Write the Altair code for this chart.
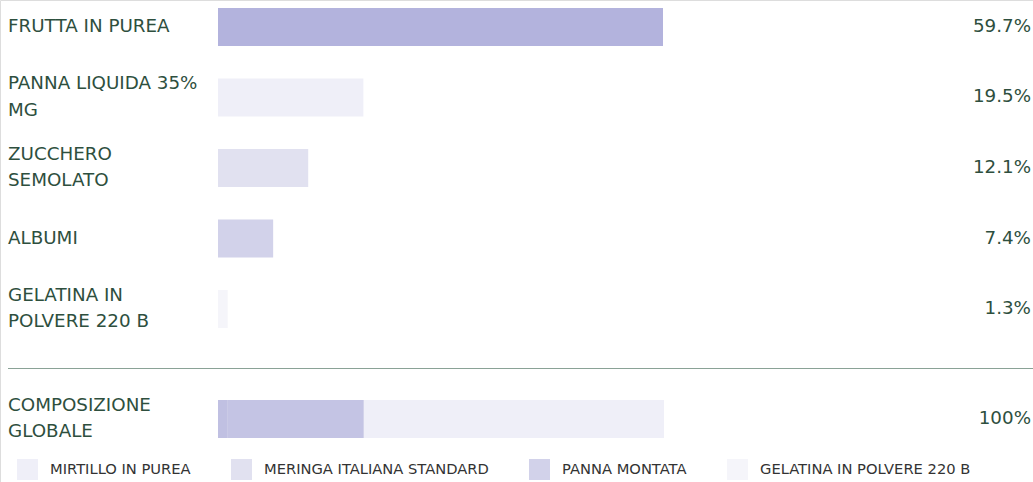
import altair as alt
import pandas as pd

# ---- data ----
ingredients = ["FRUTTA IN PUREA", "PANNA LIQUIDA 35% MG", "ZUCCHERO SEMOLATO",
               "ALBUMI", "GELATINA IN POLVERE 220 B"]
ingredient_lines = [["FRUTTA IN PUREA"], ["PANNA LIQUIDA 35%", "MG"],
                    ["ZUCCHERO", "SEMOLATO"], ["ALBUMI"],
                    ["GELATINA IN", "POLVERE 220 B"]]
shares = [59.7, 19.5, 12.1, 7.4, 1.3]
bar_colors = ["#b3b3dd", "#efeff8", "#e1e1f0", "#d2d2ea", "#f5f5fa"]

composite_name = "COMPOSIZIONE GLOBALE"
composite_lines = ["COMPOSIZIONE", "GLOBALE"]
composite_total = "100%"
composite_segments = ["s1", "s2", "s3"]
composite_values = [2.2, 30.5, 67.3]
composite_colors = ["#c0c0e2", "#c4c4e4", "#efeff8"]

legend_items = ["MIRTILLO IN PUREA", "MERINGA ITALIANA STANDARD",
                "PANNA MONTATA", "GELATINA IN POLVERE 220 B"]
legend_colors = ["#efeff8", "#e1e1f0", "#d2d2ea", "#f5f5fa"]

TEXT = "#2e4f3e"
FONT = "DejaVu Sans"
FS = 18.3
LH = 26.5

rows = pd.DataFrame({
    "name": ingredients,
    "label": ["\n".join(l) for l in ingredient_lines],
    "nlines": [len(l) for l in ingredient_lines],
    "share": shares,
    "pct": [f"{v}%" for v in shares],
    "fill": bar_colors,
})
comp = pd.DataFrame({
    "name": [composite_name] * len(composite_segments),
    "seg": composite_segments,
    "value": composite_values,
    "order": list(range(len(composite_segments))),
    "fill": composite_colors,
})
comp_label = pd.DataFrame({"name": [composite_name],
                           "label": ["\n".join(composite_lines)],
                           "pct": [composite_total]})
leg = pd.DataFrame({"item": legend_items})

y_main = alt.Y("name:N", axis=None,
               scale=alt.Scale(type="band", domain=ingredients, range=[8, 328],
                               paddingInner=0.461, paddingOuter=0))
y_comp = alt.Y("name:N", axis=None,
               scale=alt.Scale(type="band", domain=[composite_name], range=[400, 438],
                               paddingInner=0, paddingOuter=0))

bars = alt.Chart(rows).mark_bar(cornerRadius=0).encode(
    x=alt.X("share:Q", axis=None,
            scale=alt.Scale(domain=[0, max(shares)], range=[218, 663], nice=False, zero=True)),
    y=y_main,
    fill=alt.Fill("fill:N", scale=None),
)


def label_layer(source, y_enc, nlines):
    return alt.Chart(source).mark_text(
        align="left", baseline="middle", fontSize=FS, font=FONT, color=TEXT,
        lineBreak="\n", lineHeight=LH, dy=-(nlines - 1) * LH / 2,
    ).encode(x=alt.value(8), y=y_enc, text="label:N")


names1 = label_layer(rows, y_main, 1).transform_filter("datum.nlines == 1")
names2 = label_layer(rows, y_main, 2).transform_filter("datum.nlines == 2")
pcts = alt.Chart(rows).mark_text(align="right", baseline="middle", fontSize=FS,
                                 font=FONT, color=TEXT).encode(
    x=alt.value(1031), y=y_main, text="pct:N")

divider = alt.Chart(leg).mark_rule(color="#8aa296", strokeWidth=1).encode(
    x=alt.value(8), x2=alt.value(1033), y=alt.value(368.5))

comp_bars = alt.Chart(comp).mark_bar().encode(
    x=alt.X("value:Q", stack="zero", axis=None,
            scale=alt.Scale(domain=[0, 100], range=[218, 664], nice=False)),
    y=y_comp,
    fill=alt.Fill("fill:N", scale=None),
    order=alt.Order("order:Q"),
)
comp_names = label_layer(comp_label, y_comp, len(composite_lines))
comp_pct = alt.Chart(comp_label).mark_text(align="right", baseline="middle", fontSize=FS,
                                           font=FONT, color=TEXT).encode(
    x=alt.value(1031), y=y_comp, text="pct:N")

legend_layer = alt.Chart(leg).mark_square(opacity=0).encode(
    x=alt.value(-50), y=alt.value(-50),
    color=alt.Color("item:N",
                    scale=alt.Scale(domain=legend_items, range=legend_colors),
                    legend=alt.Legend(title=None, orient="none", direction="horizontal",
                                      legendX=17, legendY=459, padding=0,
                                      symbolType="square", symbolSize=441,
                                      symbolStrokeWidth=0, symbolOpacity=1,
                                      labelFont=FONT, labelFontSize=14.7,
                                      labelColor="#333333", labelOffset=12,
                                      columnPadding=40, labelLimit=400)),
)

chart = alt.layer(bars, names1, names2, pcts, divider, comp_bars, comp_names, comp_pct,
                  legend_layer).resolve_scale(
    x="independent", y="independent", color="independent", fill="independent"
).properties(
    width=1033, height=482, padding=0, autosize=alt.AutoSizeParams(type="none")
).configure_view(stroke=None).configure(background="white")

chart.save("out.html", embed_options={"renderer": "svg", "actions": False})
